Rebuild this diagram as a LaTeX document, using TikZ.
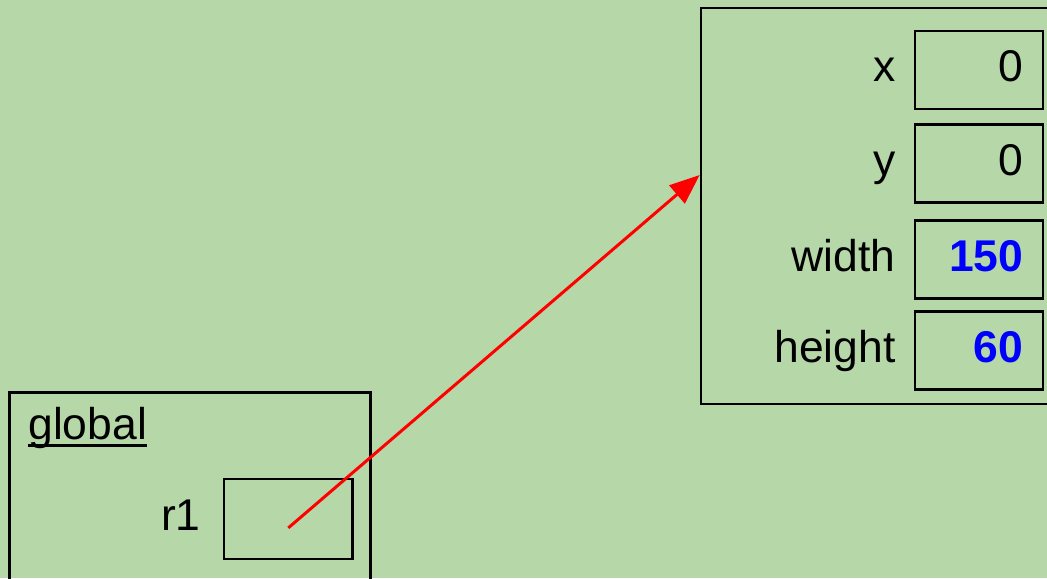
\documentclass[tikz,border=0pt]{standalone}
\usepackage{fontspec}
\setmainfont{Liberation Sans}
\usetikzlibrary{arrows.meta, positioning}
\definecolor{bggreen}{HTML}{B6D7A8}
\definecolor{valblue}{HTML}{0000FF}
\newsavebox\ulbox
\newcommand\thickul[1]{\sbox\ulbox{#1}\rlap{\rule[-0.15cm]{\wd\ulbox}{0.06cm}}\usebox\ulbox}

\begin{document}
\begin{tikzpicture}[x=0.02cm, y=-0.02cm,
    font=\fontsize{25.3}{30}\selectfont,
    frame/.style={draw, line width=1.2pt, inner sep=0pt},
    outerframe/.style={draw, line width=1.7pt, inner sep=0pt},
    field/.style={draw, line width=1.2pt, minimum width=2.56cm, minimum height=1.56cm, text width=1.76cm, align=right, inner xsep=0.4cm, inner ysep=0pt, text height=0.64cm, text depth=0.16cm},
    fieldname/.style={inner sep=0pt, text height=0.64cm, text depth=0.16cm},
    changed/.style={text=valblue, font=\fontsize{25.3}{30}\selectfont\bfseries},
    ref/.style={-{Triangle[length=0.6cm, width=0.47cm]}, red, line width=1.7pt}
]
\fill[bggreen] (0,0) rectangle (1047,578);
\useasboundingbox (0,0) rectangle (1047,578);

\begin{scope}
\clip (0,0) rectangle (1047,578);
\node[frame, minimum width=7.386cm, minimum height=7.92cm] (objframe) at (885.35,206) {};
\node[outerframe, minimum width=7.234cm, minimum height=4.146cm] (globalframe) at (189.85,496.35) {};
\end{scope}

\node[field] (xval) at (979.3,70) {0};
\node[field] (yval) at (979.3,163.5) {0};
\node[field, changed] (wval) at (979.3,259.5) {150};
\node[field, changed] (hval) at (979.3,350.5) {60};

\node[fieldname, left=0.37cm of xval] (xname) {x};
\node[fieldname, left=0.37cm of yval] (yname) {y};
\node[fieldname, left=0.37cm of wval] (wname) {width};
\node[fieldname, left=0.37cm of hval] (hname) {height};

\node[anchor=base west, inner sep=0pt] (globalname) at (28,439) {\thickul{global}};
\node[draw, line width=1.2pt, minimum width=2.57cm, minimum height=1.59cm] (r1box) at (288.3,518.9) {};
\node[fieldname, left=0.44cm of r1box] (r1name) {r1};

\draw[ref] ([yshift=-0.18cm]r1box.center) -- ([yshift=0.62cm]objframe.west);
\end{tikzpicture}
\end{document}
